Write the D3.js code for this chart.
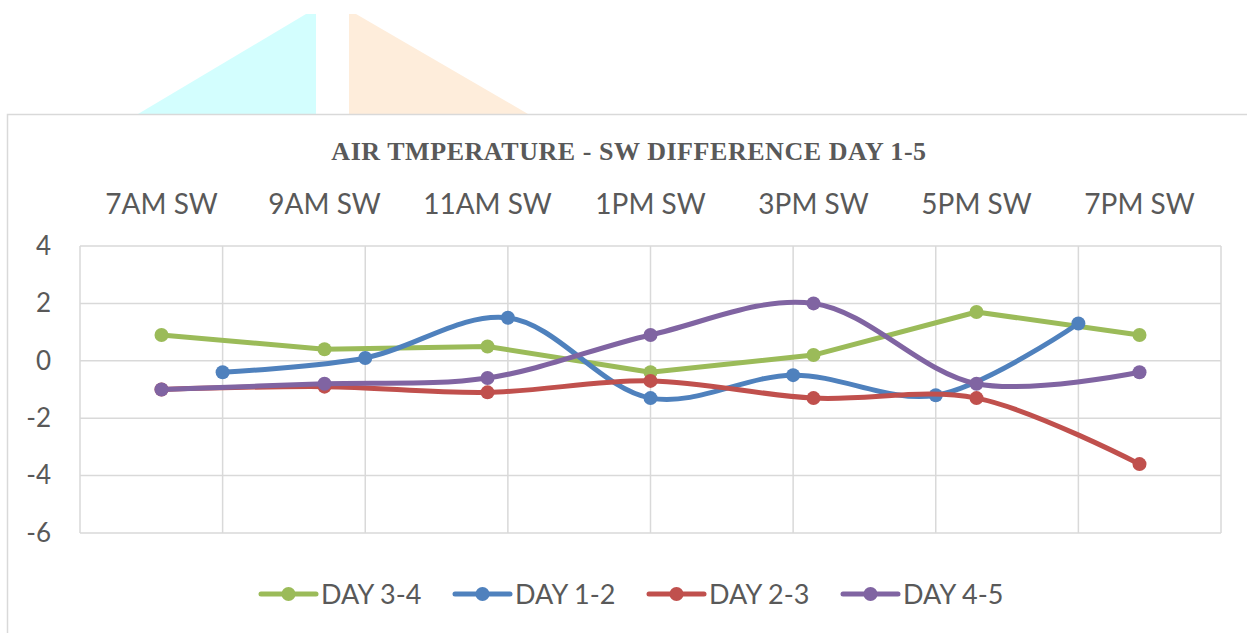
<!DOCTYPE html>
<html>
<head>
<meta charset="utf-8">
<script src="https://cdn.jsdelivr.net/npm/d3@7"></script>
<style>
  html, body { margin: 0; padding: 0; background: #ffffff; }
  svg { display: block; }
</style>
</head>
<body>
<svg id="chart" width="1247" height="633"></svg>
<script>
// ---------- data ----------
const categories = ["7AM SW", "9AM SW", "11AM SW", "1PM SW", "3PM SW", "5PM SW", "7PM SW"];
const seriesNames = ["DAY 3-4", "DAY 1-2", "DAY 2-3", "DAY 4-5"];
const day34 = [0.9, 0.4, 0.5, -0.4, 0.2, 1.7, 0.9];
const day12 = [-0.4, 0.1, 1.5, -1.3, -0.5, -1.2, 1.3];
const day23 = [-1.0, -0.9, -1.1, -0.7, -1.3, -1.3, -3.6];
const day45 = [-1.0, -0.8, -0.6, 0.9, 2.0, -0.8, -0.4];
const yTicks = [-6, -4, -2, 0, 2, 4];
const secondarySlots = [0, 1, 2, 3, 4, 5, 6, 7, 8];
const title = "AIR TMPERATURE - SW DIFFERENCE DAY 1-5";

// ---------- layout / style ----------
const colors = ["#9BBB59", "#4F81BD", "#C0504D", "#8064A2"];
const plot = { left: 80, right: 1221, top: 246, bottom: 533 };
const textColor = "#595959";
const gridColor = "#d9d9d9";
const sansFont = "Lato, 'Open Sans', sans-serif";
const lineWidth = 5;
const markerR = 7;

const svg = d3.select("#chart");

// decorative background shapes above the chart frame
svg.append("path")
  .attr("d", "M138,114 L306,14 L316,14 L316,114 Z")
  .attr("fill", "#d3fefe");
svg.append("path")
  .attr("d", "M349,114 L349,14 L356,14 L528,114 Z")
  .attr("fill", "#feeddb");

// chart frame
svg.append("rect")
  .attr("x", 7.5).attr("y", 114.5)
  .attr("width", 1300).attr("height", 600)
  .attr("fill", "#ffffff")
  .attr("stroke", gridColor).attr("stroke-width", 1.5);

// scales
const x = d3.scaleBand().domain(categories).range([plot.left, plot.right]);
const x2 = d3.scalePoint().domain(secondarySlots).range([plot.left, plot.right]);
const y = d3.scaleLinear().domain([-6, 4]).range([plot.bottom, plot.top]);

// title
svg.append("text")
  .attr("x", 629)
  .attr("y", 159.5)
  .attr("text-anchor", "middle")
  .attr("font-family", "'Liberation Serif', 'Times New Roman', serif")
  .attr("font-weight", "bold")
  .attr("font-size", 26)
  .attr("letter-spacing", 0.55)
  .attr("fill", textColor)
  .text(title);

// gridlines
const grid = svg.append("g");
grid.selectAll("line.h")
  .data(yTicks)
  .join("line")
  .attr("class", "h")
  .attr("x1", plot.left).attr("x2", plot.right)
  .attr("y1", d => y(d)).attr("y2", d => y(d))
  .attr("stroke", gridColor).attr("stroke-width", 1.5);
grid.selectAll("line.v")
  .data(secondarySlots)
  .join("line")
  .attr("class", "v")
  .attr("x1", d => x2(d)).attr("x2", d => x2(d))
  .attr("y1", plot.top).attr("y2", plot.bottom)
  .attr("stroke", gridColor).attr("stroke-width", 1.5);

// top category axis (labels only)
const xAxis = svg.append("g")
  .attr("transform", `translate(0,${plot.top - 32})`)
  .call(d3.axisTop(x).tickSize(0).tickPadding(0));
xAxis.select(".domain").remove();
xAxis.selectAll("text")
  .attr("font-family", sansFont)
  .attr("font-size", 28)
  .attr("fill", textColor);

// left value axis (labels only)
const yAxis = svg.append("g")
  .attr("transform", `translate(${plot.left - 29},0)`)
  .call(d3.axisLeft(y).tickValues(yTicks).tickSize(0).tickPadding(0).tickFormat(d3.format("d")));
yAxis.select(".domain").remove();
yAxis.selectAll("text")
  .attr("font-family", sansFont)
  .attr("font-size", 26)
  .attr("fill", textColor)
  .text(d => d < 0 ? "-" + Math.abs(d) : d);

// series
const bandCenter = i => x(categories[i]) + x.bandwidth() / 2;
const series = [
  { name: seriesNames[0], values: day34, color: colors[0], xpos: bandCenter, curve: d3.curveLinear },
  { name: seriesNames[1], values: day12, color: colors[1], xpos: i => x2(secondarySlots[i + 1]), curve: d3.curveCatmullRom },
  { name: seriesNames[2], values: day23, color: colors[2], xpos: bandCenter, curve: d3.curveCatmullRom },
  { name: seriesNames[3], values: day45, color: colors[3], xpos: bandCenter, curve: d3.curveCatmullRom }
];

const marks = svg.append("g");
series.forEach(s => {
  const pts = s.values.map((v, i) => [s.xpos(i), y(v)]);
  const g = marks.append("g");
  g.append("path")
    .attr("d", d3.line().curve(s.curve)(pts))
    .attr("fill", "none")
    .attr("stroke", s.color)
    .attr("stroke-width", lineWidth)
    .attr("stroke-linecap", "round")
    .attr("stroke-linejoin", "round");
  g.selectAll("circle")
    .data(pts)
    .join("circle")
    .attr("cx", d => d[0]).attr("cy", d => d[1])
    .attr("r", markerR)
    .attr("fill", s.color);
});

// legend
const legend = svg.append("g").attr("transform", "translate(261,594)");
series.forEach((s, i) => {
  const item = legend.append("g").attr("transform", `translate(${i * 194},0)`);
  item.append("line")
    .attr("x1", 0).attr("x2", 55)
    .attr("y1", 0).attr("y2", 0)
    .attr("stroke", s.color).attr("stroke-width", lineWidth)
    .attr("stroke-linecap", "round");
  item.append("circle")
    .attr("cx", 27.5).attr("cy", 0).attr("r", markerR)
    .attr("fill", s.color);
  item.append("text")
    .attr("x", 60).attr("y", 0)
    .attr("dy", "0.36em")
    .attr("font-family", sansFont)
    .attr("font-size", 27)
    .attr("fill", textColor)
    .text(s.name);
});
</script>
</body>
</html>
